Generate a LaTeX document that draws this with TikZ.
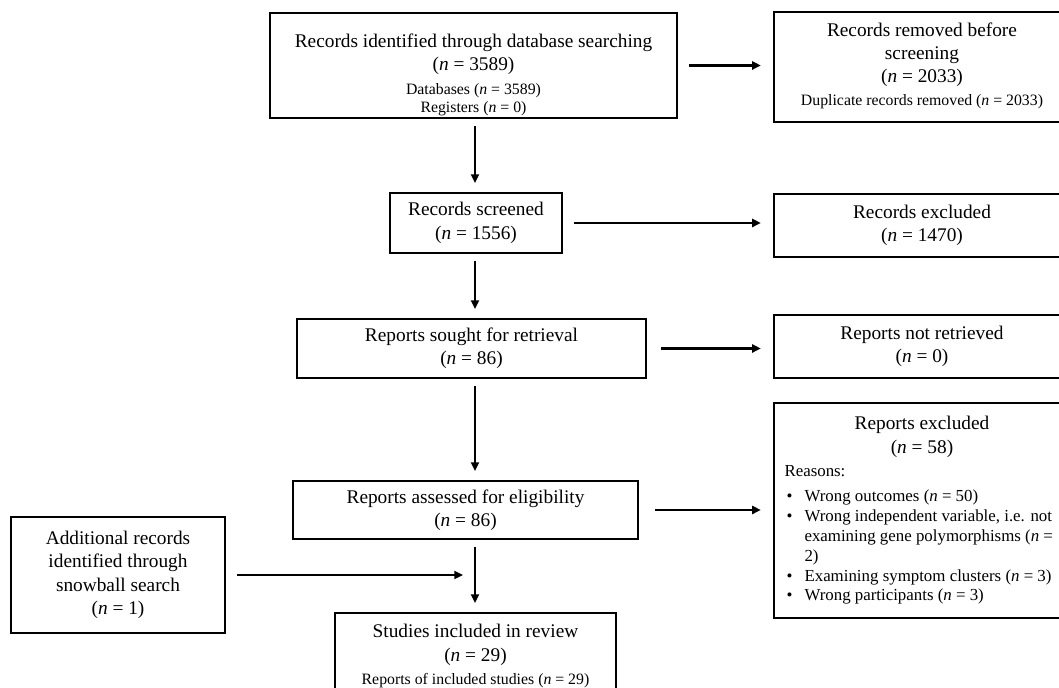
\documentclass[tikz,border=0pt]{standalone}
\usepackage{fontspec}
\setmainfont{Liberation Serif}
\usetikzlibrary{arrows.meta}

\newcommand{\ncount}[1]{(\textit{n} = #1)}
\newcommand{\smalltxt}{\fontsize{9}{10.2}\selectfont}
\newcommand{\smalllines}[1]{{\smalltxt\begin{tabular}{@{}c@{}}#1\end{tabular}}}
\newcommand{\bitem}[1]{\par\hangindent=0.4cm\hangafter=1\noindent\makebox[0.4cm][l]{\hspace{0.04cm}\textbullet}#1}

\begin{document}
\begin{tikzpicture}[x=0.02cm,y=-0.02cm,
  box/.style={draw, line width=1.3pt, inner sep=0pt, align=center,
    font=\fontsize{11}{13.3}\selectfont},
  arr/.style={line width=1.3pt, -{Triangle[length=5pt,width=4.5pt]},
    shorten <=4pt, shorten >=5pt},
  side/.style={arr, shorten <=6pt, shorten >=6.8pt}]

\useasboundingbox (0,0) rectangle (1059,688);
\clip (0,0) rectangle (1059,688);

% main column
\node[box, minimum width=8.14cm, minimum height=2.1cm] (ident) at (473.5,65.5)
  {\mbox{}\\[6.3pt] Records identified through database searching\\ \ncount{3589}\\[3pt]
   \smalllines{Databases \ncount{3589}\\ Registers \ncount{0}}};
\node[box, minimum width=3.44cm, minimum height=1.2cm] (screened) at (476,223)
  {Records screened\\ \ncount{1556}};
\node[box, minimum width=6.98cm, minimum height=1.18cm] (sought) at (471.5,348.5)
  {Reports sought for retrieval\\ \ncount{86}};
\node[box, minimum width=6.9cm, minimum height=1.16cm] (assessed) at (465.5,510)
  {Reports assessed for eligibility\\ \ncount{86}};
\node[box, minimum width=5.62cm, minimum height=1.76cm] (included) at (475.5,657)
  {Studies included in review\\ \ncount{29}\\
   \smalllines{Reports of included studies \ncount{29}}};

% side column
\node[box, minimum width=5.92cm, minimum height=2.2cm] (removed) at (922,67)
  {Records removed before\\ screening\\ \ncount{2033}\\
   \smalllines{Duplicate records removed \ncount{2033}}};
\node[box, minimum width=5.92cm, minimum height=1.26cm] (recexcl) at (922,225.5)
  {Records excluded\\ \ncount{1470}};
\node[box, minimum width=5.92cm, minimum height=1.26cm] (notretr) at (922,346.5)
  {Reports not retrieved\\ \ncount{0}};
\node[box, minimum width=5.92cm, minimum height=4.3cm, text width=5.5cm, align=flush left]
  (repexcl) at (922,510.5)
  {{\centering Reports excluded\par \ncount{58}\par}
   \vspace{2pt}
   {\fontsize{9.6}{11.3}\selectfont\noindent Reasons:\par\vspace{3pt}
   \bitem{Wrong outcomes \ncount{50}}
   \bitem{\mbox{Wrong independent variable, i.e. not}\newline
     \mbox{examining gene polymorphisms (\textit{n} =}\newline 2)}
   \bitem{\mbox{Examining symptom clusters \ncount{3}}}
   \bitem{Wrong participants \ncount{3}}\par}};

% snowball
\node[box, minimum width=4.28cm, minimum height=2.32cm] (additional) at (118,575)
  {Additional records\\ identified through\\ snowball search\\ \ncount{1}};

\coordinate (spine) at (475,0);

\draw[arr] (spine |- ident.south) -- (spine |- screened.north);
\draw[arr] (spine |- screened.south) -- (spine |- sought.north);
\draw[arr] (spine |- sought.south) -- (spine |- assessed.north);
\draw[arr] (spine |- assessed.south) -- (spine |- included.north);

\draw[side] (ident.east) -- (ident.east -| removed.west);
\draw[side] (screened.east) -- (screened.east -| recexcl.west);
\draw[side, shorten <=8pt] (sought.east) -- (sought.east -| notretr.west);
\draw[side, shorten <=9pt] (assessed.east) -- (assessed.east -| repexcl.west);
\draw[side] (additional.east) -- (additional.east -| spine);
\end{tikzpicture}
\end{document}
